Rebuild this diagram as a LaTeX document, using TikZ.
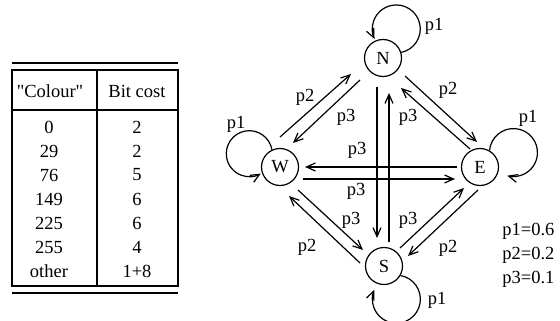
\documentclass[tikz,border=0pt]{standalone}
\usepackage{fontspec}
\setmainfont{Liberation Serif}[Ligatures=TeXOff]
\usetikzlibrary{arrows.meta}
\begin{document}
\begin{tikzpicture}[x=0.5pt,y=-0.5pt,
  st/.style={circle,draw,line width=0.6pt,minimum size=18.5pt,inner sep=0pt,font=\fontsize{9.25}{11}\selectfont},
  arr/.style={line width=0.6pt,-{Straight Barb[length=4.5pt,width=4pt]}},
  lbl/.style={font=\fontsize{9.25}{11}\selectfont,inner sep=0pt},
  tb/.style={font=\fontsize{9.25}{11}\selectfont,inner sep=0pt},
  rulel/.style={line width=0.8pt},
  gridl/.style={line width=0.6pt}]
\useasboundingbox (0,0) rectangle (560,320);
% table
\draw[rulel] (12,63) -- (178,63);
\draw[gridl] (12,70) rectangle (178,286);
\draw[gridl] (97,70) -- (97,286);
\draw[gridl] (12,110) -- (178,110);
\draw[rulel] (12,293) -- (178,293);
\node[tb] (h1) at (50,91) {"Colour"};
\node[tb] (h2) at (137,91) {Bit cost};
\node[tb] (a1) at (49,127) {0};   \node[tb] (b1) at (137,127) {2};
\node[tb] (a2) at (49,151) {29};  \node[tb] (b2) at (137,151) {2};
\node[tb] (a3) at (49,175) {76};  \node[tb] (b3) at (137,175) {5};
\node[tb] (a4) at (49,199) {149}; \node[tb] (b4) at (137,199) {6};
\node[tb] (a5) at (49,223) {225}; \node[tb] (b5) at (137,223) {6};
\node[tb] (a6) at (49,247) {255}; \node[tb] (b6) at (137,247) {4};
\node[tb] (a7) at (49,271) {other}; \node[tb] (b7) at (137,271) {1+8};
% states
\node[st] (N) at (383,58) {N};
\node[st] (W) at (280,167) {W};
\node[st] (E) at (480,167) {E};
\node[st] (S) at (384,266) {S};
% self loops
\draw[arr] (N.17.5) arc[start angle=78, end angle=-205, radius=24];
\draw[arr] (W.115) arc[start angle=-10, end angle=-300, radius=23];
\draw[arr] (E.60) arc[start angle=185, end angle=465, radius=24];
\draw[arr] (S.-30) arc[start angle=-80, end angle=203, radius=24];
% transitions
\draw[arr] ([shift={(0,-30)}]W.center) -- ([shift={(-32,16)}]N.center);
\draw[arr] ([shift={(-23,22)}]N.center) -- ([shift={(13,-24)}]W.center);
\draw[arr] ([shift={(22,18)}]N.center) -- ([shift={(-3,-25)}]E.center);
\draw[arr] ([shift={(-10,-18)}]E.center) -- ([shift={(18,30)}]N.center);
\draw[arr] ([shift={(-6,29)}]N.center) -- ([shift={(-7,-28)}]S.center);
\draw[arr] ([shift={(5,-24)}]S.center) -- ([shift={(6,35)}]N.center);
\draw[arr] ([shift={(-23,0)}]E.center) -- ([shift={(25,0)}]W.center);
\draw[arr] ([shift={(23,12)}]W.center) -- ([shift={(-25,12)}]E.center);
\draw[arr] ([shift={(18,23)}]W.center) -- ([shift={(-21,-16)}]S.center);
\draw[arr] ([shift={(-24,-3)}]S.center) -- ([shift={(9,29)}]W.center);
\draw[arr] ([shift={(16,-18)}]S.center) -- ([shift={(-16,21)}]E.center);
\draw[arr] ([shift={(-2,23)}]E.center) -- ([shift={(24,-10)}]S.center);
% labels
\node[lbl] (pN) at (434,26) {p1};
\node[lbl] (pW) at (236,124) {p1};
\node[lbl] (pE) at (528,118) {p1};
\node[lbl] (pS) at (437,300) {p1};
\node[lbl] (q1) at (305,97) {p2};
\node[lbl] (q2) at (346,117) {p3};
\node[lbl] (q3) at (448,90) {p2};
\node[lbl] (q4) at (408,117) {p3};
\node[lbl] (q5) at (357,150) {p3};
\node[lbl] (q6) at (356,191) {p3};
\node[lbl] (q7) at (351,220) {p3};
\node[lbl] (q8) at (408,220) {p3};
\node[lbl] (q9) at (307,247) {p2};
\node[lbl] (q10) at (448,248) {p2};
% legend
\node[lbl,anchor=west] (k1) at (502,231) {p1=0.6};
\node[lbl,anchor=west] (k2) at (502,255) {p2=0.2};
\node[lbl,anchor=west] (k3) at (502,279) {p3=0.1};
\end{tikzpicture}
\end{document}
